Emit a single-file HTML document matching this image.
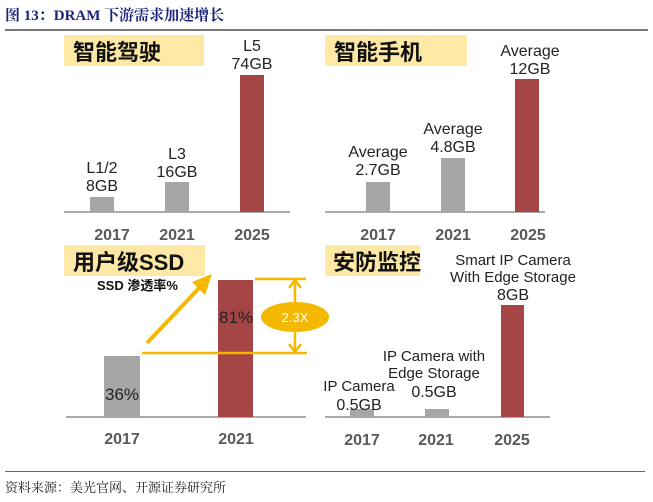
<!DOCTYPE html>
<html><head><meta charset="utf-8"><style>
body{margin:0;width:653px;height:497px;background:#fff;overflow:hidden}
svg text{font-family:"Liberation Sans","Noto Sans CJK SC",sans-serif}
</style></head><body>
<svg width="653" height="497" xmlns="http://www.w3.org/2000/svg">
<text x="5" y="20" font-size="15" font-weight="bold" fill="#1a237e" style="font-family:'Liberation Serif','Noto Serif CJK SC',serif">图 13：DRAM 下游需求加速增长</text>
<rect x="5" y="29" width="643" height="2" fill="#777"/>
<!-- panel 1 -->
<rect x="64" y="35" width="140" height="31" fill="#fde9a5"/>
<text x="73" y="60" font-size="22" font-weight="bold" fill="#111">智能驾驶</text>
<rect x="64" y="211" width="226" height="2" fill="#aaa"/>
<rect x="90" y="197" width="24" height="15" fill="#a6a6a6"/>
<rect x="165" y="182" width="24" height="30" fill="#a6a6a6"/>
<rect x="240" y="75" width="24" height="137" fill="#a64545"/>
<g font-size="16" fill="#222" text-anchor="middle">
<text x="102" y="173">L1/2</text><text x="102" y="191">8GB</text>
<text x="177" y="159">L3</text><text x="177" y="177">16GB</text>
<text x="252" y="51">L5</text><text x="252" y="69">74GB</text>
</g>
<g font-size="16" font-weight="bold" fill="#595959" text-anchor="middle">
<text x="112" y="240">2017</text><text x="177" y="240">2021</text><text x="252" y="240">2025</text>
</g>
<!-- panel 2 -->
<rect x="325" y="35" width="142" height="31" fill="#fde9a5"/>
<text x="334" y="60" font-size="22" font-weight="bold" fill="#111">智能手机</text>
<rect x="325" y="211" width="220" height="2" fill="#aaa"/>
<rect x="366" y="182" width="24" height="30" fill="#a6a6a6"/>
<rect x="441" y="158" width="24" height="54" fill="#a6a6a6"/>
<rect x="515" y="79" width="24" height="133" fill="#a64545"/>
<g font-size="16" fill="#222" text-anchor="middle">
<text x="378" y="157">Average</text><text x="378" y="175">2.7GB</text>
<text x="453" y="134">Average</text><text x="453" y="152">4.8GB</text>
<text x="530" y="56">Average</text><text x="530" y="74">12GB</text>
</g>
<g font-size="16" font-weight="bold" fill="#595959" text-anchor="middle">
<text x="378" y="240">2017</text><text x="453" y="240">2021</text><text x="528" y="240">2025</text>
</g>
<!-- panel 3 -->
<rect x="64" y="245" width="141" height="31" fill="#fde9a5"/>
<text x="73" y="270" font-size="22" font-weight="bold" fill="#111">用户级SSD</text>
<text x="97" y="290" font-size="13" font-weight="bold" fill="#111">SSD 渗透率%</text>
<rect x="66" y="416" width="240" height="2" fill="#aaa"/>
<rect x="104" y="356" width="36" height="61" fill="#a6a6a6"/>
<rect x="218" y="280" width="35" height="137" fill="#a64545"/>
<text x="122" y="400" font-size="17" fill="#222" text-anchor="middle">36%</text>
<text x="236" y="323" font-size="17" fill="#222" text-anchor="middle">81%</text>
<g stroke="#f5b800" stroke-width="2.5" fill="none">
<line x1="255" y1="279" x2="306" y2="279"/>
<line x1="142" y1="353" x2="307" y2="353"/>
<line x1="295" y1="282" x2="295" y2="350"/>
<polyline points="289,288 295,280 301,288"/>
<polyline points="289,344 295,352 301,344"/>
<line x1="147" y1="343" x2="202" y2="285" stroke-width="4"/>
</g>
<polygon points="212,274 192,282 205,295" fill="#f5b800"/>
<ellipse cx="295" cy="317" rx="34" ry="15" fill="#f5b800"/>
<text x="295" y="322" font-size="13" fill="#fff" text-anchor="middle">2.3X</text>
<g font-size="16" font-weight="bold" fill="#595959" text-anchor="middle">
<text x="122" y="444">2017</text><text x="236" y="444">2021</text>
</g>
<!-- panel 4 -->
<rect x="325" y="245" width="95" height="31" fill="#fde9a5"/>
<text x="333" y="270" font-size="22" font-weight="bold" fill="#111">安防监控</text>
<rect x="325" y="416" width="225" height="2" fill="#aaa"/>
<rect x="350" y="409" width="24" height="8" fill="#a6a6a6"/>
<rect x="425" y="409" width="24" height="8" fill="#a6a6a6"/>
<rect x="501" y="305" width="23" height="112" fill="#a64545"/>
<g font-size="15" fill="#222" text-anchor="middle">
<text x="359" y="391">IP Camera</text><text x="359" y="410" font-size="16">0.5GB</text>
<text x="434" y="361">IP Camera with</text><text x="434" y="378">Edge Storage</text><text x="434" y="397" font-size="16">0.5GB</text>
<text x="513" y="265">Smart IP Camera</text><text x="513" y="282">With Edge Storage</text><text x="513" y="300" font-size="16">8GB</text>
</g>
<g font-size="16" font-weight="bold" fill="#595959" text-anchor="middle">
<text x="362" y="445">2017</text><text x="436" y="445">2021</text><text x="512" y="445">2025</text>
</g>
<rect x="5" y="471" width="640" height="1" fill="#666"/>
<text x="5" y="492" font-size="13" fill="#222" style="font-family:'Liberation Serif','Noto Serif CJK SC',serif">资料来源：美光官网、开源证券研究所</text>
</svg>
</body></html>
